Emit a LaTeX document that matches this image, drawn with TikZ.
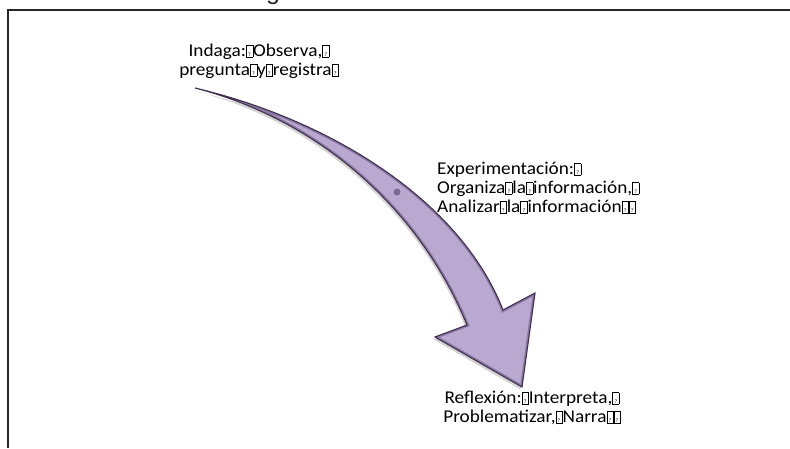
\documentclass[tikz,border=0pt]{standalone}
\usepackage{fontspec}
\setmainfont{Carlito}
\newfontfamily\titlefont{Liberation Sans}
\usetikzlibrary{shadows}

\definecolor{arrowfill}{RGB}{185,168,208}
\definecolor{arrowbevel}{RGB}{140,120,165}
\definecolor{arrowedge}{RGB}{62,48,78}
% box drawn where the font had no glyph
\newcommand{\qb}{{\setlength{\fboxsep}{0.3pt}\setlength{\fboxrule}{0.5pt}\fbox{\makebox[5pt]{\rule{0pt}{10.5pt}\fontsize{5.5}{5.5}\selectfont ?}}}}
\newcommand{\arrowpath}{(195,88) .. controls (330,120) and (460,200) .. (503,310)
  -- (535,293) -- (522,387) -- (435,337) -- (467,325)
  .. controls (420,210) and (320,120) .. cycle}

\tikzset{
  steptext/.style={font=\fontsize{18}{19}\selectfont, inner sep=0pt, transform shape, xscale=1.07},
  bigarrow/.style={fill=arrowfill, line join=miter,
    drop shadow={opacity=0.35, shadow xshift=-1.5pt, shadow yshift=-2.5pt}}
}

\begin{document}
\begin{tikzpicture}[x=1pt,y=-1pt]
\useasboundingbox (0,0) rectangle (790,448);
\node [anchor=base east, inner sep=0pt, font=\titlefont\fontsize{25}{25}\selectfont, text=black!85] (title) at (340,-1) {Métodos de Investigación};
\draw [black!85, line width=1.2pt] (790,10) -- (8,10) -- (8,448);
% curved arrow
\path [bigarrow] \arrowpath;
\begin{scope}
  \clip \arrowpath;
  \draw [arrowbevel, line width=4pt, line join=miter] \arrowpath;
\end{scope}
\draw [arrowedge, line width=1.1pt, line join=miter] \arrowpath;
\fill [arrowedge, opacity=.5] (397,192) circle (3.5);
% texts
\node [steptext, align=center] (indaga) at (259,61) {Indaga:\qb Observa,\qb\\pregunta\qb y\qb registra\qb};
\node [steptext, align=left, anchor=west] (experim) at (437,188) {Experimentación:\qb\\Organiza\qb la\qb información,\qb\\Analizar\qb la\qb información\qb\qb};
\node [steptext, align=center] (reflex) at (532,408) {Reflexión:\qb Interpreta,\qb\\Problematizar,\qb Narra\qb\qb};
\end{tikzpicture}
\end{document}
